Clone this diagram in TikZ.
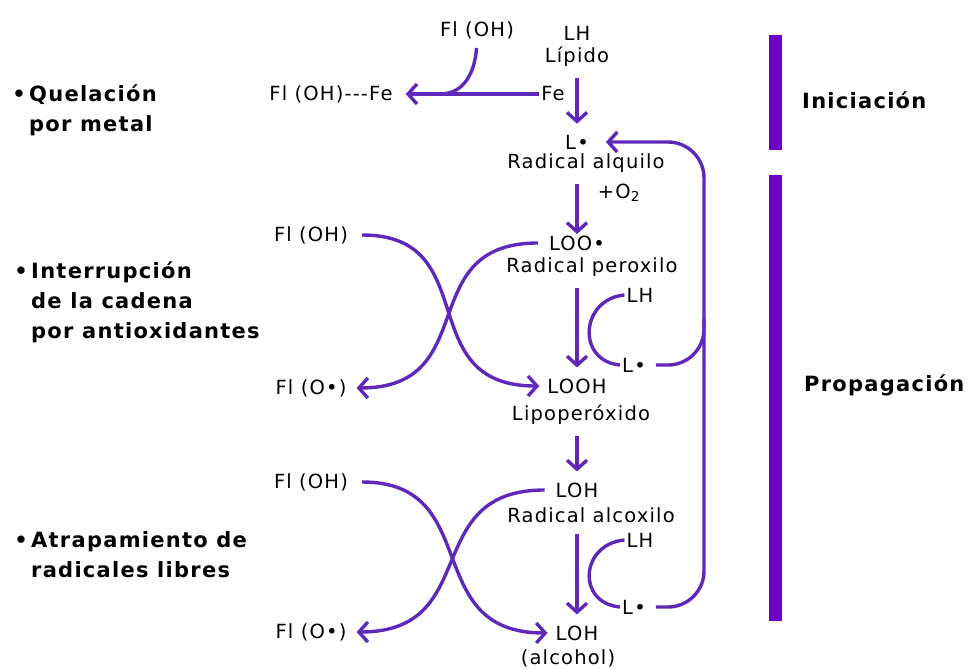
\documentclass[tikz,border=0pt]{standalone}
\usepackage{fontspec}
\usetikzlibrary{arrows.meta}
\newfontfamily\quim{DejaVu Sans}[LetterSpace=6]
\newfontfamily\titulo{DejaVu Sans}[LetterSpace=6]

\begin{document}
\begin{tikzpicture}[x=1pt,y=-1pt,
    every node/.style={font=\quim\fontsize{19.5}{22}\selectfont, inner sep=2pt},
    linea/.style={draw=morado, line width=3.4pt},
    flecha/.style={linea, -{Straight Barb[length=9pt,width=20pt]}},
    vertical/.style={flecha, shorten <=9pt, shorten >=9pt},
    etapa/.style={font=\titulo\bfseries\fontsize{21}{30}\selectfont, anchor=west, align=left}]

    % colores
    \definecolor{morado}{RGB}{96,40,186}   % flechas
    \definecolor{barra}{RGB}{112,0,200}    % barras de etapas

    % parámetros
    \def\xc{577}   % columna central
    \def\xv{704}   % línea de retorno

    \useasboundingbox (0,0) rectangle (972,669);

    % --- etiquetas de la izquierda ---
    \node[etapa] (quel) at (27,110) {\llap{•\,}Quelación\\por metal};
    \node[etapa] (inter) at (29,302) {\llap{•\,}Interrupción\\de la cadena\\por antioxidantes};
    \node[etapa] (atrap) at (29,555) {\llap{•\,}Atrapamiento de\\radicales libres};

    % --- etapas a la derecha ---
    \fill[barra] (769,35) rectangle (782,150);
    \fill[barra] (769,175) rectangle (782,621);
    \node[etapa] (ini) at (800,100) {Iniciación};
    \node[etapa] (prop) at (802,385) {Propagación};

    % --- iniciación ---
    \node (fla) at (477,30) {Fl (OH)};
    \node (lh) at (\xc,33) {LH};
    \node (lip) at (\xc,57) {Lípido};
    \node (flfe) at (331,94) {Fl (OH)-{}-{}-Fe};
    \node (fe) at (553,94) {Fe};
    \node (la) at (\xc,142) {L•};
    \node (ralq) at (586,163) {Radical alquilo};
    \node (o2) at (619,193) {+O\textsubscript{2}};

    \coordinate (fusion) at (440,94);
    \draw[flecha, shorten >=11pt] (fe.west) -- (flfe.east);
    \draw[linea, shorten <=7pt] (fla.south) .. controls +(-2,30) and +(25,0) .. (fusion);
    \draw[vertical] (lip.south -| la) -- (la.north);
    \draw[vertical] (ralq.south -| la) -- (la |- 243,243);

    % --- propagación: peróxido ---
    \node (loo) at (\xc,243) {LOO•};
    \node (rper) at (592,267) {Radical peroxilo};
    \node (lh1) at (640,295) {LH};
    \node (lm) at (634,365) {L•};
    \node (looh) at (\xc,386) {LOOH};
    \node (lipo) at (581,415) {Lipoperóxido};
    \node (flb) at (311,235) {Fl (OH)};
    \node (fob) at (311,388) {Fl (O•)};

    \draw[vertical] (rper.south -| loo) -- (looh.north);
    \draw[linea] (lh1.west) .. controls +(-44,4) and +(-44,-4) .. (lm.west);
    \draw[flecha, shorten <=12pt, shorten >=6pt] (flb.east) .. controls +(135,0) and +(-135,0) .. (looh.west);
    \draw[flecha, shorten <=9pt, shorten >=8pt] (loo.west) .. controls +(-135,0) and +(135,0) .. (fob.east);

    % --- propagación: alcoxilo ---
    \node (loh) at (\xc,490) {LOH};
    \node (ralc) at (591,515) {Radical alcoxilo};
    \node (lh2) at (640,540) {LH};
    \node (lb) at (634,607) {L•};
    \node (alcoh) at (\xc,633) {LOH};
    \node (alc) at (568,658) {(alcohol)};
    \node (flc) at (311,482) {Fl (OH)};
    \node (foc) at (311,632) {Fl (O•)};

    \draw[vertical] (lipo.south -| looh) -- (loh.north);
    \draw[vertical] (ralc.south -| loh) -- (alcoh.north);
    \draw[linea] (lh2.west) .. controls +(-44,4) and +(-44,-4) .. (lb.west);
    \draw[flecha, shorten <=12pt, shorten >=6pt] (flc.east) .. controls +(135,0) and +(-135,0) .. (alcoh.west);
    \draw[flecha, shorten <=9pt, shorten >=8pt] (loh.west) .. controls +(-135,0) and +(135,0) .. (foc.east);

    % --- retorno del radical L• ---
    \coordinate (vuelta) at (\xv,142);
    \coordinate (union) at (\xv,318);
    \draw[flecha, rounded corners=36pt, shorten <=8pt, shorten >=15pt] (lb.east) -| (vuelta) -- (la.east);
    \draw[linea, rounded corners=36pt, shorten <=8pt] (lm.east) -| (union);
\end{tikzpicture}
\end{document}
